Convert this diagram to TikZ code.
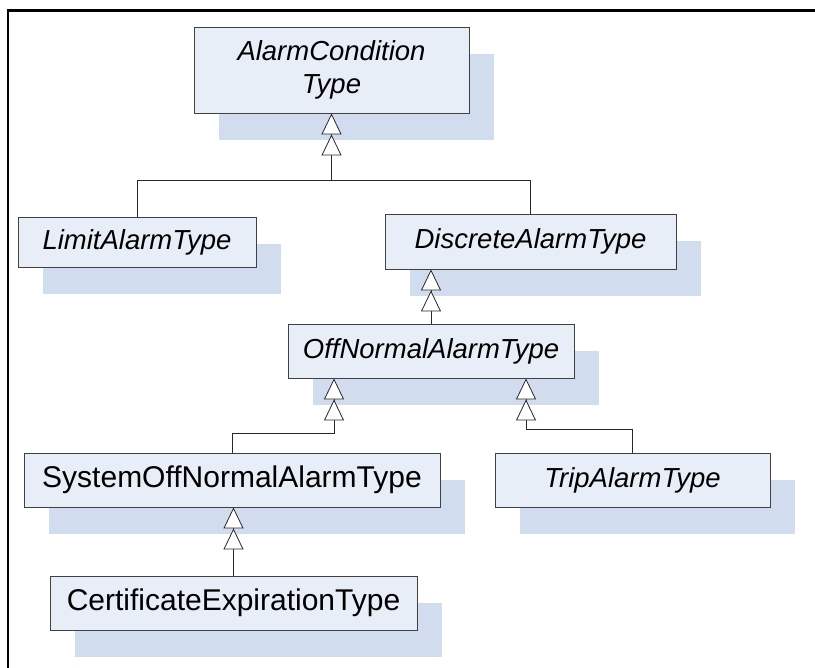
\documentclass[tikz,border=0pt]{standalone}
\usepackage{fontspec}
\setmainfont{Liberation Sans}
\usetikzlibrary{arrows.meta,shadows,calc}
\definecolor{boxfill}{RGB}{232,238,248}
\definecolor{shadowfill}{RGB}{209,220,238}
\definecolor{boxline}{RGB}{64,64,64}
\definecolor{connline}{RGB}{40,40,40}
\begin{document}
\begin{tikzpicture}[x=1pt,y=-1pt,
  cls/.style={draw=boxline, line width=0.9pt, fill=boxfill, inner sep=0pt, align=center,
    general shadow={fill=shadowfill, draw=none, shadow xshift=25pt, shadow yshift=-27pt}},
  abstr/.style={font=\fontsize{27.5}{33}\selectfont\itshape},
  concr/.style={font=\fontsize{30}{34}\selectfont},
  conn/.style={draw=connline, line width=0.8pt},
  inh/.style={conn, -{Triangle[open,fill=white,width=20pt,length=21pt,sep=0pt]Triangle[open,fill=white,width=20pt,length=21pt,sep=0pt]}}
]
\useasboundingbox (0,0) rectangle (815,668);
\fill[white] (0,0) rectangle (815,668);
\draw[line width=2.5pt] (816,10.5) -| (7.8,669);

\node[cls, abstr, minimum width=275pt, minimum height=86pt] (acond) at (331.5,70) {AlarmCondition\\Type};
\node[cls, abstr, minimum width=238pt, minimum height=50pt] (limit) at (137,242) {LimitAlarmType};
\node[cls, abstr, minimum width=291pt, minimum height=55pt] (disc) at (530.5,241.5) {DiscreteAlarmType};
\node[cls, abstr, minimum width=286pt, minimum height=54pt] (offn) at (431,351) {OffNormalAlarmType};
\node[cls, concr, minimum width=416pt, minimum height=54pt] (sys) at (232,480) {SystemOffNormalAlarmType};
\node[cls, abstr, minimum width=275pt, minimum height=54pt] (trip) at (632.5,480) {TripAlarmType};
\node[cls, concr, minimum width=367pt, minimum height=54pt] (cert) at (233.5,603) {CertificateExpirationType};

\coordinate (j1) at ($(acond.south)+(0,67)$);
\coordinate (o1) at ($(offn.south)+(-97,0)$);
\coordinate (o2) at ($(offn.south)+(95,0)$);

\draw[conn] (disc.north) |- (j1);
\draw[inh] (limit.north) |- (j1) -- (acond.south);
\draw[inh] (offn.north) -- (offn.north |- disc.south);
\draw[inh] (sys.north) |- ($(o1)+(0,55)$) -- (o1);
\draw[inh] (trip.north) |- ($(o2)+(0,51)$) -- (o2);
\draw[inh] (cert.north) -- (cert.north |- sys.south);
\end{tikzpicture}
\end{document}
